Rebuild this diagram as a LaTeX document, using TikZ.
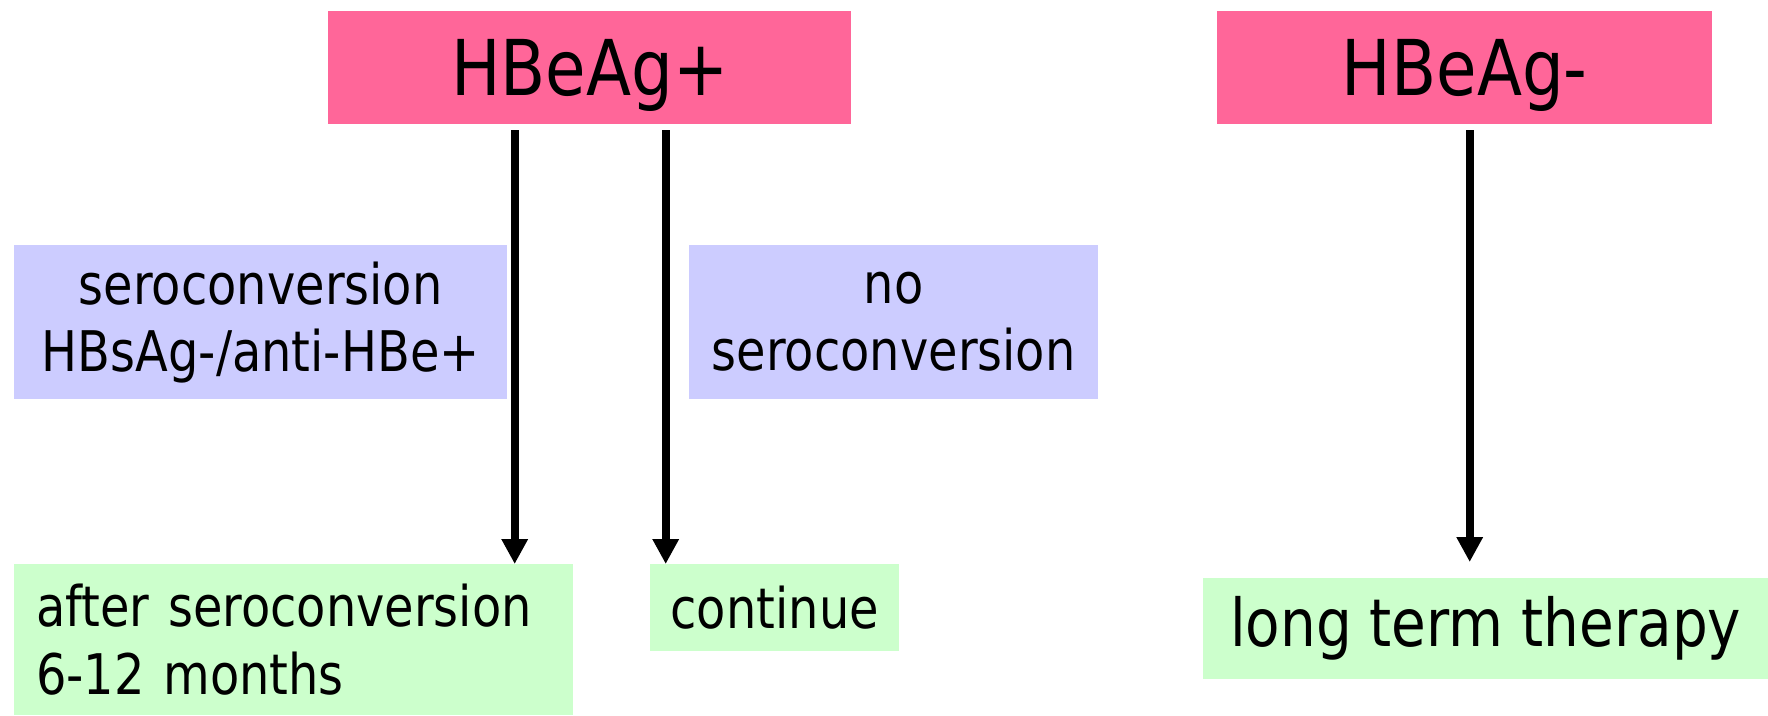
\documentclass[tikz,border=0pt]{standalone}
\usepackage{fontspec}
\setmainfont{DejaVu Sans}[FakeStretch=0.855]
\usetikzlibrary{positioning,arrows.meta}

\definecolor{hbpink}{HTML}{FF6699}
\definecolor{hbblue}{HTML}{CCCCFF}
\definecolor{hbgreen}{HTML}{CCFFCC}

\tikzset{
    antigen/.style={fill=hbpink, inner sep=0pt, anchor=north west, text depth=0pt,
        font=\fontsize{77}{84}\selectfont},
    conversion/.style={fill=hbblue, inner sep=0pt, anchor=north west,
        align=center, font=\fontsize{56}{67}\selectfont},
    therapy/.style={fill=hbgreen, inner sep=0pt, anchor=north west,
        font=\fontsize{56}{68}\selectfont},
    flow/.style={line width=8pt, -{Triangle[length=25pt,width=25pt]}}
}

\begin{document}
\begin{tikzpicture}[x=1pt, y=1pt]
    \useasboundingbox (0,0) rectangle (1768,-715);

    % antigen status
    \node[antigen, minimum width=523pt, minimum height=113pt] (pos) at (328,-11) {HBeAg+};
    \node[antigen, minimum width=495pt, minimum height=113pt] (neg) at (1217,-11) {HBeAg-};

    % response
    \node[conversion, minimum width=493pt, minimum height=154pt] (sero) at (14,-245)
        {seroconversion\\HBsAg-/anti-HBe+};
    \node[conversion, minimum width=409pt, minimum height=154pt] (nosero) at (689,-245)
        {no\\seroconversion};

    % duration
    \node[therapy, minimum width=559pt, minimum height=151pt, text width=515pt,
        inner xsep=22pt, align=left] (after) at (14,-564)
        {after seroconversion\\6-12 months};
    \node[therapy, minimum width=249pt, minimum height=87pt] (cont) at (650,-564) {continue};
    \node[therapy, minimum width=565pt, minimum height=101pt,
        font=\fontsize{66}{72}\selectfont] (long) at (1203,-578) {long term therapy};

    \coordinate (posleft) at ([xshift=-75pt, yshift=-6pt]pos.south);
    \coordinate (posright) at ([xshift=76pt, yshift=-6pt]pos.south);
    \coordinate (negdown) at ([xshift=5pt, yshift=-6pt]neg.south);

    \draw[flow] (posleft) -- (posleft |- after.north);
    \draw[flow] (posright) -- (posright |- cont.north);
    \draw[flow] (negdown) -- ([yshift=16pt]negdown |- long.north);
\end{tikzpicture}
\end{document}
